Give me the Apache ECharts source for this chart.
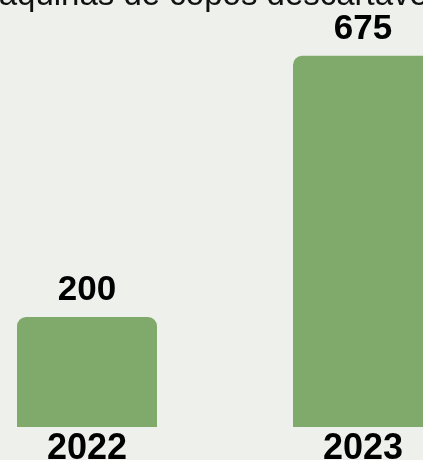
<!DOCTYPE html>
<html>
<head>
<meta charset="utf-8">
<script src="https://cdn.jsdelivr.net/npm/echarts@6/dist/echarts.min.js"></script>
<style>
  html, body { margin: 0; padding: 0; background: #eef0eb; }
  #chart { width: 423px; height: 460px; }
</style>
</head>
<body>
<div id="chart"></div>
<script>
const titleText = 'Máquinas de copos descartáveis'
const years = ['2022', '2023']
const units = [200, 675]

const chart = echarts.init(document.getElementById('chart'))
chart.setOption({
  backgroundColor: '#eef0eb',
  textStyle: { fontFamily: '"Liberation Sans", Arial, sans-serif' },
  title: {
    text: titleText,
    left: 'center',
    top: -26,
    textStyle: { fontSize: 33, fontWeight: 'normal', color: '#111' }
  },
  // bars run past the right edge, so the grid is wider than the page
  grid: { left: -51, right: -78, top: 42, bottom: 33, outerBoundsMode: 'none' },
  xAxis: {
    type: 'category',
    data: years,
    axisLine: { show: false },
    axisTick: { show: false },
    axisLabel: { color: '#000', fontSize: 36, fontWeight: 'bold', margin: 4 }
  },
  yAxis: {
    type: 'value',
    min: 0,
    max: 700,
    show: false
  },
  series: [
    {
      type: 'bar',
      data: units,
      barWidth: 140,
      itemStyle: { color: '#80aa6b', borderRadius: [9, 9, 0, 0] },
      label: {
        show: true,
        position: 'top',
        distance: 9,
        color: '#000',
        fontSize: 35,
        fontWeight: 'bold'
      }
    }
  ]
})
</script>
</body>
</html>
